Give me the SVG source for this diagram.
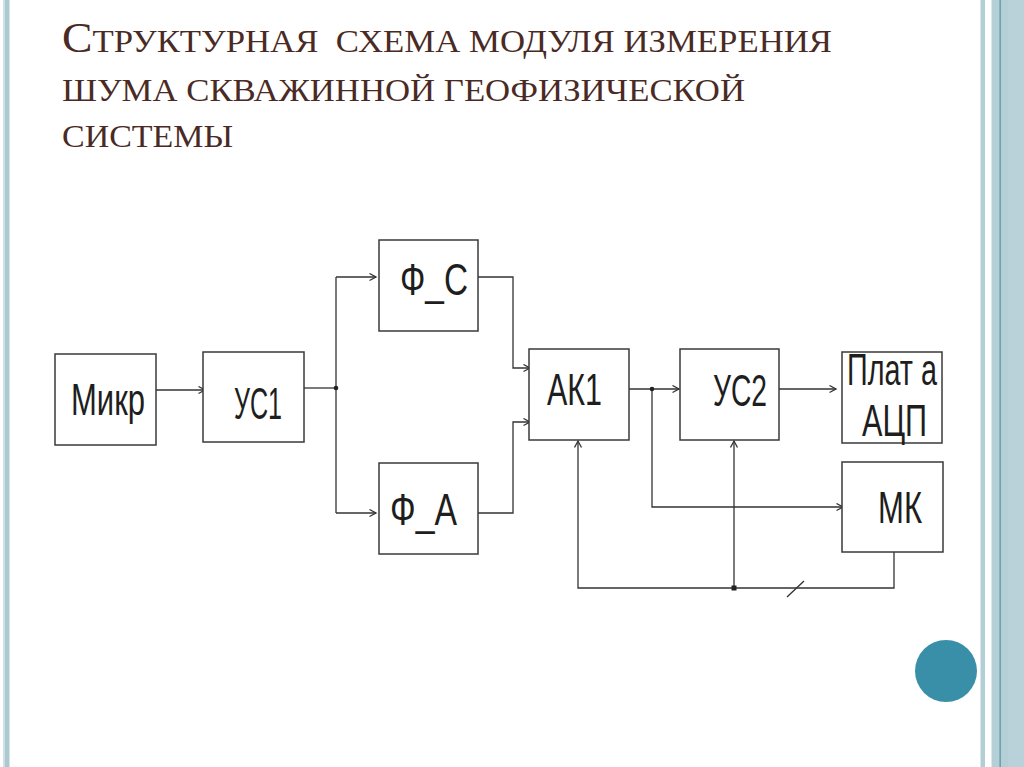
<svg xmlns="http://www.w3.org/2000/svg" width="1024" height="767" viewBox="0 0 1024 767">
  <style>
    .box { fill: #ffffff; stroke: #3a3a3a; stroke-width: 1.5; }
    .lbl { font-family: "Liberation Sans", Arial, sans-serif; font-size: 44px; fill: #1e1e1e; }
    .title { font-family: "Liberation Serif", "Times New Roman", serif; font-size: 32px; fill: #4a2a24; }
    .wire { fill: none; stroke: #333333; stroke-width: 1.3; }
    .dot { fill: #222222; }
  </style>
  <defs>
    <marker id="arr" markerUnits="userSpaceOnUse" markerWidth="10" markerHeight="10" refX="7" refY="4" orient="auto">
      <path d="M0.5,0.5 L7,4 L0.5,7.5" fill="none" stroke="#333333" stroke-width="1.3"/>
    </marker>
  </defs>
  <rect x="0" y="0" width="1024" height="767" fill="#ffffff"/>

  <!-- decorative borders -->
  <g id="decor">
    <rect x="3" y="0" width="2" height="767" fill="#cfe0e4"/>
    <rect x="5" y="0" width="4.5" height="767" fill="#abc9d1"/>
    <rect x="980.5" y="0" width="4.5" height="767" fill="#b3cfd6"/>
    <rect x="991.5" y="0" width="32.5" height="767" fill="#b5cfd7"/>
    <rect x="1008" y="0" width="16" height="767" fill="#b9d2d9"/>
    <rect x="999.5" y="0" width="1.3" height="767" fill="#5a98a9"/>
    <circle cx="946" cy="671" r="31" fill="#3a8fa8"/>
  </g>

  <!-- title -->
  <g id="title">
    <text class="title" x="62" y="52" xml:space="preserve" textLength="770" lengthAdjust="spacingAndGlyphs"><tspan font-size="42px">С</tspan>ТРУКТУРНАЯ  СХЕМА МОДУЛЯ ИЗМЕРЕНИЯ</text>
    <text class="title" x="62" y="101" textLength="683" lengthAdjust="spacingAndGlyphs">ШУМА СКВАЖИННОЙ ГЕОФИЗИЧЕСКОЙ</text>
    <text class="title" x="62" y="147" textLength="171" lengthAdjust="spacingAndGlyphs">СИСТЕМЫ</text>
  </g>

  <!-- connectors -->
  <g id="connectors">
    <path class="wire" d="M156,390 H205" marker-end="url(#arr)"/>
    <path class="wire" d="M304,388 H336"/>
    <path class="wire" d="M336,277 V513"/>
    <path class="wire" d="M336,277 H376" marker-end="url(#arr)"/>
    <path class="wire" d="M336,513 H376" marker-end="url(#arr)"/>
    <path class="wire" d="M478,277 H513 V368 H530" marker-end="url(#arr)"/>
    <path class="wire" d="M478,513 H513 V422 H530" marker-end="url(#arr)"/>
    <path class="wire" d="M629,389 H679" marker-end="url(#arr)"/>
    <path class="wire" d="M779,389 H836" marker-end="url(#arr)"/>
    <path class="wire" d="M652,389 V507 H843" marker-end="url(#arr)"/>
    <path class="wire" d="M894,552 V588 H578 V441" marker-end="url(#arr)"/>
    <path class="wire" d="M734,588 V441" marker-end="url(#arr)"/>
    <path class="wire" d="M787,597 L804,581"/>
    <circle class="dot" cx="336" cy="388" r="2.3"/>
    <circle class="dot" cx="652" cy="389" r="2.3"/>
    <rect class="dot" x="731.5" y="585.5" width="5" height="5"/>
  </g>

  <!-- nodes -->
  <g id="node-mikr">
    <rect class="box" x="55" y="354" width="101" height="91"/>
    <text class="lbl" x="71" y="415" textLength="74" lengthAdjust="spacingAndGlyphs">Микр</text>
  </g>
  <g id="node-us1">
    <rect class="box" x="203" y="352" width="101" height="90"/>
    <text class="lbl" x="234" y="419" textLength="48" lengthAdjust="spacingAndGlyphs">УС1</text>
  </g>
  <g id="node-fc">
    <rect class="box" x="379" y="240" width="99" height="91"/>
    <text class="lbl" x="400" y="295" textLength="68" lengthAdjust="spacingAndGlyphs">Ф_С</text>
  </g>
  <g id="node-fa">
    <rect class="box" x="379" y="463" width="99" height="91"/>
    <text class="lbl" x="390" y="525" textLength="67" lengthAdjust="spacingAndGlyphs">Ф_А</text>
  </g>
  <g id="node-ak1">
    <rect class="box" x="529" y="349" width="100" height="91"/>
    <text class="lbl" x="547" y="405" textLength="55" lengthAdjust="spacingAndGlyphs">АК1</text>
  </g>
  <g id="node-us2">
    <rect class="box" x="680" y="349" width="99" height="91"/>
    <text class="lbl" x="713" y="406" textLength="54" lengthAdjust="spacingAndGlyphs">УС2</text>
  </g>
  <g id="node-adc">
    <rect class="box" x="842" y="352" width="100" height="91"/>
    <text class="lbl" x="847" y="385" font-size="42" textLength="90" lengthAdjust="spacingAndGlyphs">Плат а</text>
    <text class="lbl" x="862" y="436" font-size="42" textLength="65" lengthAdjust="spacingAndGlyphs">АЦП</text>
  </g>
  <g id="node-mk">
    <rect class="box" x="842" y="462" width="101" height="90"/>
    <text class="lbl" x="878" y="523" textLength="44" lengthAdjust="spacingAndGlyphs">МК</text>
  </g>
</svg>
